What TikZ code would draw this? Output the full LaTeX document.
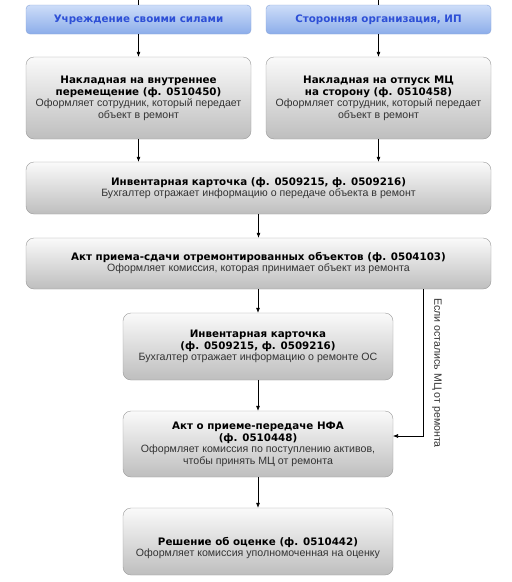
\documentclass[tikz,border=0pt]{standalone}
\usepackage{fontspec}
\setmainfont{Liberation Sans}
\newfontfamily\mytitlefamily{DejaVu Sans}
\usetikzlibrary{arrows.meta}
\definecolor{bluetop}{HTML}{CDDDF8}
\definecolor{bluebot}{HTML}{8CADEA}
\definecolor{blueedge}{HTML}{8AA6DA}
\definecolor{bluetext}{HTML}{2D4FD6}
\definecolor{graytop}{HTML}{FAFAFA}
\definecolor{graybot}{HTML}{BEBEBE}
\definecolor{grayedge}{HTML}{9A9A9A}
\definecolor{desctext}{HTML}{333333}
\newcommand{\mytitlefont}{\mytitlefamily\bfseries\fontsize{10.3}{12}\selectfont}
\newcommand{\mydescfont}{\normalfont\fontsize{10.6}{11.5}\selectfont\color{desctext}}
\begin{document}
\begin{tikzpicture}[x=1pt,y=1pt,
  headbox/.style={draw=blueedge,rounded corners=4pt,top color=bluetop,bottom color=bluebot,
    minimum width=225pt,minimum height=29pt,inner sep=0pt,text=bluetext,align=center,
    font=\mytitlefont},
  docbox/.style={draw=grayedge,rounded corners=8pt,top color=graytop,bottom color=graybot,
    inner sep=0pt,align=center,text=black,font=\mytitlefont},
  arr/.style={-{Latex[length=5pt,width=4pt]},line width=0.6pt,black},
  ln/.style={line width=0.6pt,black}]
\useasboundingbox (0,0) rectangle (512,-582);
\fill[white] (0,0) rectangle (512,-582);
% headers
\node[headbox] (h1) at (138.5,-19.5) {Учреждение своими силами};
\node[headbox] (h2) at (378.5,-19.5) {Сторонняя организация, ИП};
\coordinate (t1) at (138.5,0);
\coordinate (t2) at (378.5,0);
% boxes
\node[docbox,minimum width=225pt,minimum height=82pt] (a) at (138.5,-98) {Накладная на внутреннее\\перемещение (ф. 0510450)\\[-1pt]\mydescfont Оформляет сотрудник, который передает\\\mydescfont объект в ремонт};
\node[docbox,minimum width=225pt,minimum height=82pt] (b) at (378.5,-98) {Накладная на отпуск МЦ\\на сторону (ф. 0510458)\\[-1pt]\mydescfont Оформляет сотрудник, который передает\\\mydescfont объект в ремонт};
\node[docbox,minimum width=465pt,minimum height=52pt] (inv1) at (258.5,-188) {Инвентарная карточка (ф. 0509215, ф. 0509216)\\[-1pt]\mydescfont Бухгалтер отражает информацию о передаче объекта в ремонт};
\node[docbox,minimum width=465pt,minimum height=51pt] (act1) at (258.5,-263.5) {Акт приема-сдачи отремонтированных объектов (ф. 0504103)\\[-1pt]\mydescfont Оформляет комиссия, которая принимает объект из ремонта};
\node[docbox,minimum width=270pt,minimum height=67pt] (inv2) at (258,-346.5) {Инвентарная карточка\\(ф. 0509215, ф. 0509216)\\[-1pt]\mydescfont Бухгалтер отражает информацию о ремонте ОС};
\node[docbox,minimum width=270pt,minimum height=66pt] (nfa) at (258,-444) {Акт о приеме-передаче НФА\\(ф. 0510448)\\[-1pt]\mydescfont Оформляет комиссия по поступлению активов,\\\mydescfont чтобы принять МЦ от ремонта};
\node[docbox,minimum width=270pt,minimum height=67pt] (fin) at (258,-541.5) {\rule{0pt}{21pt}Решение об оценке (ф. 0510442)\\[-1pt]\mydescfont Оформляет комиссия уполномоченная на оценку};
% connectors
\draw[ln] (t1) -- (h1.north);
\draw[ln] (t2) -- (h2.north);
\draw[arr] (h1.south) -- (a.north);
\draw[arr] (h2.south) -- (b.north);
\draw[arr] (a.south) -- (a.south |- inv1.north);
\draw[arr] (b.south) -- (b.south |- inv1.north);
\draw[arr] (inv1.south) -- (inv1.south |- act1.north);
\draw[arr] (act1.south -| inv2.north) -- (inv2.north);
\draw[arr] (inv2.south) -- (nfa.north);
\draw[arr] (nfa.south) -- (fin.north);
\coordinate (side) at (423,-436);
\coordinate (sidetarget) at (393,-436);
\draw[arr] (act1.south -| side) -- (side) -- (sidetarget);
\node[rotate=-90,font=\fontsize{10.6}{12}\selectfont,text=desctext] (lbl) at (437,-373) {Если остались МЦ от ремонта};
\end{tikzpicture}
\end{document}
